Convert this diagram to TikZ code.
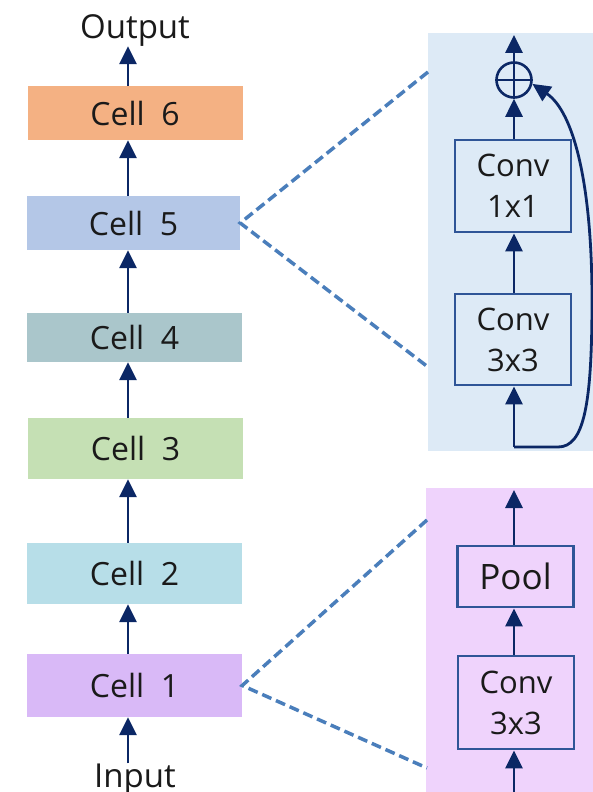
\documentclass[tikz,border=0pt]{standalone}
\usepackage{fontspec}
\setmainfont{Open Sans}
\usetikzlibrary{arrows.meta,calc}

\definecolor{navy}{HTML}{0B2765}
\definecolor{boxblue}{HTML}{2F5597}
\definecolor{linkblue}{HTML}{4A7EBB}
\definecolor{txt}{HTML}{1A1A1A}
\definecolor{cellsix}{HTML}{F4B183}
\definecolor{cellfive}{HTML}{B4C7E7}
\definecolor{cellfour}{HTML}{AAC6CB}
\definecolor{cellthree}{HTML}{C5E0B4}
\definecolor{celltwo}{HTML}{B7DEE8}
\definecolor{cellone}{HTML}{D9B9F7}
\definecolor{panelblue}{HTML}{DDEAF6}
\definecolor{panelpurple}{HTML}{EFD3FC}

\begin{document}
\begin{tikzpicture}[x=1pt, y=-1pt,
  cellbox/.style={rectangle, minimum width=215pt, inner sep=0pt, text=txt,
    font=\fontsize{32}{38}\selectfont},
  opbox/.style={rectangle, draw=boxblue, line width=2.8pt, minimum width=116pt,
    inner sep=0pt, align=center, text=txt, font=\fontsize{31}{41}\selectfont},
  lbl/.style={inner sep=0pt, text=txt, font=\fontsize{33}{38}\selectfont},
  arr/.style={draw=navy, line width=2.8pt, -{Triangle[width=17pt,length=18pt]}},
  zoomlink/.style={draw=linkblue, line width=3.5pt, dash pattern=on 10pt off 5pt}
]
\useasboundingbox (0,0) rectangle (593,792);

% detail panels
\node[rectangle, fill=panelblue, inner sep=0pt, minimum width=165pt, minimum height=418pt,
  anchor=north west] (pa) at (428,33) {};
\node[rectangle, fill=panelpurple, inner sep=0pt, minimum width=167pt, minimum height=304pt,
  anchor=north west] (pb) at (426,488) {};

% main stack of cells
\node[cellbox, fill=cellsix,   minimum height=54pt] (c6) at (135,113)   {Cell\ \ 6};
\node[cellbox, fill=cellfive,  minimum height=54pt, minimum width=213pt] (c5) at (133.5,223) {Cell\ \ 5};
\node[cellbox, fill=cellfour,  minimum height=49pt] (c4) at (134.5,337.5) {Cell\ \ 4};
\node[cellbox, fill=cellthree, minimum height=61pt] (c3) at (135.5,448.5) {Cell\ \ 3};
\node[cellbox, fill=celltwo,   minimum height=61pt] (c2) at (134.5,573.5) {Cell\ \ 2};
\node[cellbox, fill=cellone,   minimum height=63pt] (c1) at (134.5,685.5) {Cell\ \ 1};

\node[lbl, anchor=base] (out) at (135,38)  {Output};
\node[lbl, anchor=base] (in)  at (135,787) {Input};

% flow through the stack
\draw[arr] (in.north -| 128,0) -- (c1.south -| 128,0);
\draw[arr] (c1.north -| 128,0) -- (c2.south -| 128,0);
\draw[arr] (c2.north -| 128,0) -- (c3.south -| 128,0);
\draw[arr] (c3.north -| 128,0) -- (c4.south -| 128,0);
\draw[arr] (c4.north -| 128,0) -- (c5.south -| 128,0);
\draw[arr] (c5.north -| 128,0) -- (c6.south -| 128,0);
\draw[arr] (c6.north -| 128,0) -- (out.south -| 128,0);

% zoom-in links
\coordinate (a1) at (428,72);
\coordinate (a2) at (428,367);
\coordinate (b1) at (427,520);
\coordinate (b2) at (427,768);
\draw[zoomlink] (a1) -- (c5.east) -- (a2);
\draw[zoomlink] (b1) -- (c1.east) -- (b2);

% residual cell
\node[circle, draw=navy, line width=2.6pt, minimum size=35pt, inner sep=0pt] (sum) at (514,80) {};
\draw[navy, line width=2.6pt] (sum.north) -- (sum.south) (sum.west) -- (sum.east);
\node[opbox, minimum height=92pt] (conva) at (513,186)   {Conv\\1x1};
\node[opbox, minimum height=91pt] (convb) at (513,339.5) {Conv\\3x3};
\coordinate (atop) at (514,35);
\coordinate (skip) at (514,447);
\draw[arr] (sum.north) -- (atop);
\draw[arr] (conva.north -| sum) -- (sum.south);
\draw[arr] (convb.north -| sum) -- (conva.south -| sum);
\draw[arr] (skip) -- (convb.south -| skip);
\draw[arr] (skip) -- (558,447) .. controls (584,447) and (592,405) .. (592,300)
  .. controls (592,185) and (574,112) .. (sum.-12);

% reduction cell
\node[opbox, minimum height=61pt, font=\fontsize{35}{41}\selectfont] (pool) at (515.5,576.5) {Pool};
\node[opbox, minimum height=93pt] (convc) at (516,702.5) {Conv\\3x3};
\coordinate (btop) at (514,490);
\coordinate (bbot) at (514,792);
\draw[arr] (pool.north -| btop) -- (btop);
\draw[arr] (convc.north -| btop) -- (pool.south -| btop);
\draw[arr] (bbot) -- (convc.south -| bbot);
\end{tikzpicture}
\end{document}
